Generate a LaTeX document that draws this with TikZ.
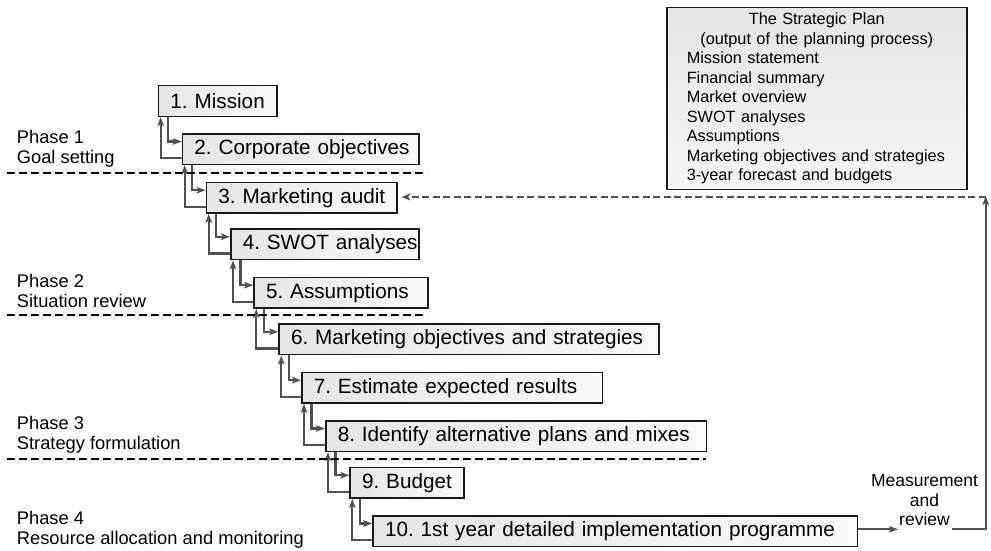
\documentclass[tikz,border=0pt]{standalone}
\usepackage{fontspec}
\setmainfont{Liberation Sans}
\usetikzlibrary{arrows.meta}
\definecolor{linkgray}{HTML}{505050}
\frenchspacing
\begin{document}
\begin{tikzpicture}[x=1pt,y=-1pt,
  stepbox/.style={draw=black!90, line width=1.5pt, left color=black!10, right color=black!2,
    anchor=north west, minimum height=30.6pt, inner xsep=12pt, inner ysep=0pt,
    text width=#1, font=\fontsize{20.7}{24}\selectfont},
  conn/.style={draw=linkgray, line width=2.2pt, line cap=butt,
    -{Stealth[length=9pt,width=6.5pt,inset=2pt]}},
  feedback/.style={draw=linkgray, line width=1.6pt, dash pattern=on 7pt off 3.5pt,
    -{Stealth[length=9pt,width=7pt,inset=2.5pt]}},
  phaseline/.style={draw=black, line width=1.8pt, dash pattern=on 8pt off 4pt},
  phasetext/.style={anchor=west, inner sep=0pt, align=left,
    font=\fontsize{18.3}{20}\selectfont},
]
\useasboundingbox (0,0) rectangle (991,551);

% planning steps
\node[stepbox=94.3pt]  (b1)  at (157.7,85)  {\mbox{1. Mission}};
\node[stepbox=212.3pt] (b2)  at (181.7,133) {\mbox{2. Corporate objectives}};
\node[stepbox=166.3pt] (b3)  at (205.7,181.7) {\mbox{3. Marketing audit}};
\node[stepbox=164.3pt] (b4)  at (230,228.3) {\mbox{4. SWOT analyses}};
\node[stepbox=150pt]   (b5)  at (253.3,276.7) {\mbox{5. Assumptions}};
\node[stepbox=356pt]   (b6)  at (278.3,323.3) {\mbox{6. Marketing objectives and strategies}};
\node[stepbox=276.7pt] (b7)  at (301,371.7) {\mbox{7. Estimate expected results}};
\node[stepbox=356.7pt] (b8)  at (325,420)   {\mbox{8. Identify alternative plans and mixes}};
\node[stepbox=90pt]    (b9)  at (349.3,466.7) {\mbox{9. Budget}};
\node[stepbox=460.4pt] (b10) at (372.3,515) {\mbox{10. 1st year detailed implementation programme}};

% forward and return links between consecutive steps
\foreach \a/\b in {b1/b2,b2/b3,b3/b4,b4/b5,b5/b6,b6/b7,b7/b8,b8/b9,b9/b10}{
  \draw[conn] ([xshift=10.5pt]\a.south west) |- ([yshift=-8.5pt]\b.north west);
  \draw[conn] ([yshift=7pt]\b.south west) -| ([xshift=3pt]\a.south west);
}

% phase separators and labels
\draw[phaseline] (7,172.7) -- (427,172.7);
\draw[phaseline] (7,315.3) -- (427,315.3);
\draw[phaseline] (7,458.8) -- (705.7,458.8);
\node[phasetext] (p1) at (16.7,148.3) {Phase 1\\Goal setting};
\node[phasetext] (p2) at (16.7,291) {Phase 2\\Situation review};
\node[phasetext] (p3) at (16.7,434.5) {Phase 3\\Strategy formulation};
\node[phasetext] (p4) at (16.7,529.7) {Phase 4\\Resource allocation and monitoring};

% summary of the plan
\node[draw=black!90, line width=1.5pt, top color=black!10, bottom color=black!4,
  anchor=north west, minimum height=181.5pt, inner xsep=20pt, inner ysep=0pt,
  text width=260pt, align=left, font=\fontsize{16.3}{19.5}\selectfont]
  (plan) at (666,7)
  {\makebox[260pt]{The Strategic Plan}\\
   \makebox[260pt]{(output of the planning process)}\\
   Mission statement\\
   Financial summary\\
   Market overview\\
   SWOT analyses\\
   Assumptions\\
   Marketing objectives and strategies\\
   3-year forecast and budgets};

% measurement and review loop
\node[align=center, inner sep=0pt, font=\fontsize{17.5}{19.5}\selectfont]
  (meas) at (924.5,500.5) {Measurement\\and\\review};
\coordinate (mtip) at (898,529.3);
\coordinate (mout) at (952,529.3);
\coordinate (loopTop) at (985.7,197);
\draw[conn] (b10.east |- mtip) -- (mtip);
\draw[conn] (mout) -| ([yshift=1pt]loopTop);
\draw[feedback, shorten >=4pt] (loopTop) -- (b3.east |- loopTop);
\end{tikzpicture}
\end{document}
